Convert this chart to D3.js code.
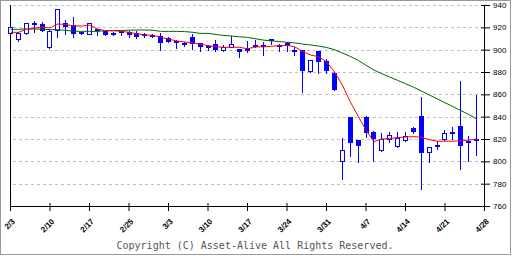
<!DOCTYPE html>
<html>
<head>
<meta charset="utf-8">
<script src="https://cdn.jsdelivr.net/npm/d3@7"></script>
<style>
  body { margin: 0; background: #fff; }
  svg { display: block; }
</style>
</head>
<body>
<script>
// week ticks, one every 5 slots
const tickLabels = ['2/3', '2/10', '2/17', '2/25', '3/3', '3/10', '3/17', '3/24', '3/31', '4/7', '4/14', '4/21', '4/28']
const priceTicks = [760, 780, 800, 820, 840, 860, 880, 900, 920, 940]

// daily candles (slot index = position in array)
const open = [915.2, 909.3, 914.6, 924, 923, 902.7, 917.6, 924, 922, 915.8,
  914.3, 918.5, 916.4, 915.2, 916.4, 915.5, 914.6, 913.8, 913, 912,
  910.2, 907.8, 906, 911.3, 905.7, 903, 904.8, 900, 902.4, 900.6,
  901.5, 903.9, 904.5, 909.6, 903.9, 906, 899.7, 899.7, 881.2, 898.8,
  889.8, 879.4, 800, 839.7, 818.9, 839.4, 826.3, 810, 819.7, 813.5,
  819.4, 830.1, 840.6, 808.1, 814.6, 820.3, 826.6, 831.9, 818, 820]
const high = [921, 915.5, 924, 925.7, 924.8, 917.5, 936.5, 926.3, 929.5, 916,
  924, 918.8, 916.6, 915.5, 916.8, 916.7, 916.7, 914.5, 914, 914.6,
  911, 908.5, 907, 913.8, 906, 904.6, 908.4, 904.6, 912.5, 901,
  907.5, 908.6, 906.6, 909.8, 905, 907, 902.7, 900, 890.6, 899,
  891.6, 879.8, 821.2, 840, 819.5, 840.6, 827.2, 825, 826.3, 826,
  826.3, 831, 857.9, 813, 817.9, 828, 830.5, 872, 822.7, 859.4]
const low = [914.5, 908, 914, 916, 916.5, 901.8, 911, 913.8, 911.6, 914,
  913.8, 913.5, 913, 913.2, 913.4, 911.6, 910.2, 911.6, 911.3, 900,
  906.5, 901.8, 903.5, 900.6, 898.8, 900, 898.8, 898.8, 902, 893.4,
  898, 902.7, 895, 905.5, 899.1, 899.1, 895, 862.4, 880, 879.4,
  879.4, 863.5, 784.2, 804.8, 799.7, 821.5, 800.7, 809.5, 817.6, 813,
  818.3, 825.5, 774.9, 799.7, 811, 819.5, 820.3, 792.9, 800.7, 805.7]
const close = [920, 915, 923.6, 922.4, 917, 917, 936.1, 920.3, 914.3, 914.3,
  923.6, 917, 913.4, 913.4, 915.2, 913.2, 911, 912, 911.8, 906.2,
  907.1, 906.6, 904.2, 904.8, 902.4, 901.2, 900, 902.4, 905.3, 898.2,
  899.1, 902.7, 902.7, 907.5, 902.7, 903.3, 899.1, 881.2, 890.4, 889.3,
  880.9, 863.9, 810, 816, 813.7, 825.7, 820.3, 819.7, 823.3, 821.2,
  822.7, 825.9, 807.8, 812.6, 813.5, 825.1, 825.1, 813.4, 816.2, 818]

// moving averages
const maShort = [915.5, 915.5, 918.2, 919.4, 920, 919.5, 923, 922.5, 921.2, 921.2,
  922, 918.5, 917, 917, 916.5, 915.5, 914.3, 913, 913, 911,
  909.5, 907.8, 906.9, 906.3, 905, 903.6, 902.7, 902.1, 902.1, 902.1,
  900.8, 902.5, 902.5, 903, 903.5, 903.9, 902.5, 898.2, 895.2, 893.7,
  889.2, 880.3, 868.4, 853.4, 840.6, 828, 817.6, 820, 820.6, 821.2,
  821.8, 822.1, 821.5, 819.5, 818, 818, 818, 818.5, 819, 820]
const maLong = [918.2, 918.2, 918.5, 918.5, 918.3, 918, 917.9, 917.3, 916.5, 916.4,
  916.4, 916.4, 917, 917, 917.2, 917.4, 917.6, 917.6, 917.4, 916.4,
  916.4, 916.4, 916.2, 915.6, 914.6, 914.6, 913.6, 912.7, 912.2, 911.5,
  911, 909.8, 908.6, 907.9, 907.3, 906.6, 906, 905, 904.2, 903.2,
  902, 900, 897, 894, 890.5, 886, 881.8, 878.5, 875.5, 872.5,
  869.5, 866.5, 863, 859.5, 856, 852.5, 849, 845.5, 842, 838]

const width = 512
const height = 256
const blue = '#0000ff'

const svg = d3.select('body').append('svg')
  .attr('width', width)
  .attr('height', height)

// outer frame
svg.append('rect')
  .attr('x', 0.5).attr('y', 0.5)
  .attr('width', width - 2).attr('height', height - 2)
  .attr('fill', '#fff')
  .attr('stroke', '#999')

const x = d3.scaleLinear().domain([0, 60]).range([10, 484])
const y = d3.scaleLinear().domain([760, 940]).range([206, 5])
const px = v => Math.round(v) + 0.5

// dashed grid
svg.append('g')
  .selectAll('line')
  .data(priceTicks.slice(1))
  .join('line')
    .attr('x1', 13).attr('x2', 482)
    .attr('y1', d => px(y(d))).attr('y2', d => px(y(d)))
    .attr('stroke', '#c0c0c0')
    .attr('stroke-dasharray', '3,3')

// bottom axis
const xAxis = d3.axisBottom(x)
  .tickValues(d3.range(0, 61, 5))
  .tickFormat(i => tickLabels[i / 5])
  .tickSizeInner(5)
  .tickSizeOuter(0)

const gx = svg.append('g')
  .attr('transform', 'translate(0,206)')
  .call(xAxis)
gx.select('.domain').attr('stroke', '#000')
gx.selectAll('.tick line').attr('y1', -3).attr('stroke', '#000')
gx.selectAll('.tick text')
  .attr('y', 0).attr('dy', 0)
  .attr('transform', 'translate(5,16) rotate(-45)')
  .style('text-anchor', 'end')
  .attr('font-family', 'Liberation Sans, Arial, sans-serif')
  .attr('font-size', 8)
  .attr('font-weight', 'bold')
  .attr('fill', '#000')

// right axis
const yAxis = d3.axisRight(y)
  .tickValues(priceTicks)
  .tickSizeInner(6)
  .tickSizeOuter(0)

const gy = svg.append('g')
  .attr('transform', 'translate(484,0)')
  .call(yAxis)
gy.select('.domain').attr('stroke', '#000')
gy.selectAll('.tick line').attr('x1', -3).attr('stroke', '#000')
gy.selectAll('.tick text')
  .attr('font-family', 'Liberation Sans, Arial, sans-serif')
  .attr('font-size', 8)
  .attr('fill', '#000')

// left axis line
svg.append('line')
  .attr('x1', 10.5).attr('x2', 10.5)
  .attr('y1', y(940)).attr('y2', 206.5)
  .attr('stroke', '#000')

// candles
const candles = svg.append('g')
const idx = d3.range(open.length)

candles.selectAll('line')
  .data(idx)
  .join('line')
    .attr('x1', i => px(x(i))).attr('x2', i => px(x(i)))
    .attr('y1', i => Math.round(y(high[i])))
    .attr('y2', i => Math.round(y(low[i])) + 1)
    .attr('stroke', blue)

candles.selectAll('rect')
  .data(idx)
  .join('rect')
    .each(function (i) {
      const cx = Math.round(x(i))
      const top = Math.round(y(Math.max(open[i], close[i])))
      const bot = Math.round(y(Math.min(open[i], close[i])))
      const up = close[i] > open[i]
      const r = d3.select(this)
      if (up) {
        r.attr('x', cx - 1.5).attr('y', top + 0.5)
          .attr('width', 4).attr('height', Math.max(bot - top, 1))
          .attr('fill', '#fff').attr('stroke', blue)
      } else {
        r.attr('x', cx - 2).attr('y', top)
          .attr('width', 5).attr('height', Math.max(bot - top, 2))
          .attr('fill', blue)
      }
    })

// moving averages
const line = d3.line()
  .x((d, i) => x(i) + 0.5)
  .y(d => y(d))

svg.append('path')
  .datum(maLong)
  .attr('d', line)
  .attr('fill', 'none')
  .attr('stroke', '#006600')

svg.append('path')
  .datum(maShort)
  .attr('d', line)
  .attr('fill', 'none')
  .attr('stroke', '#ff0000')

// footer
svg.append('text')
  .attr('x', 255).attr('y', 249)
  .attr('text-anchor', 'middle')
  .attr('font-family', 'DejaVu Sans Mono, Liberation Mono, monospace')
  .attr('font-size', 10)
  .attr('fill', '#555')
  .text('Copyright (C) Asset-Alive All Rights Reserved.')
</script>
</body>
</html>
